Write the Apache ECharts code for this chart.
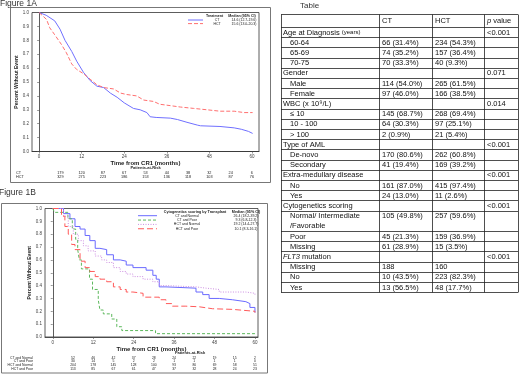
<!DOCTYPE html>
<html>
<head>
<meta charset="utf-8">
<script src="https://cdn.jsdelivr.net/npm/echarts@6/dist/echarts.min.js"></script>
<style>
html, body { margin: 0; padding: 0; background: #fff; }
#main { width: 520px; height: 377px; }
</style>
</head>
<body>
<div id="main"></div>
<script>
// ---- Figure 1A : treatment (month, survival) ----
var fig1aCT = [[0,1],[2,0.98],[4.4,0.94],[5.9,0.88],[7.3,0.80],[9.2,0.72],[10.6,0.65],[12.5,0.57],[14.4,0.51],[16.3,0.47],[18.2,0.46],[20.1,0.42],[22,0.39],[24,0.35],[26.6,0.31],[28.5,0.30],[30.4,0.28],[31.3,0.25],[33,0.245],[37,0.24],[39,0.23],[41.7,0.21],[44.6,0.19],[45.5,0.185],[51,0.18],[55,0.17],[57,0.16],[59,0.145],[60.2,0.13]];
var fig1aHCT = [[0,1],[2.1,0.95],[3,0.89],[4.4,0.84],[6.3,0.77],[7.7,0.71],[9.2,0.63],[10.6,0.59],[12.5,0.56],[14.4,0.52],[16.3,0.48],[18.2,0.46],[21,0.45],[23,0.42],[24.7,0.41],[27.5,0.40],[29.5,0.37],[32.3,0.36],[34,0.34],[37,0.33],[39.8,0.32],[43.6,0.31],[47.4,0.30],[51,0.29],[55,0.29],[57.8,0.28],[60.2,0.28]];
var fig1aNames = ['CT', 'HCT'];
var fig1aMedians = ['14.6 (12.7-19.6)', '15.6 (13.0-20.3)'];

// ---- Figure 1B : cytogenetics by transplant ----
var fig1bCTNormal = [[0,1],[1.7,1],[3.2,0.96],[5.1,0.92],[6.6,0.86],[8.1,0.84],[9.6,0.79],[11,0.75],[12.6,0.69],[14,0.68],[16,0.64],[18,0.60],[20,0.59],[21.8,0.56],[23.8,0.54],[27.7,0.52],[29.7,0.48],[30.7,0.45],[31.6,0.39],[33.6,0.38],[42.5,0.35],[44.5,0.33],[46.4,0.30],[49.4,0.29],[53.3,0.275],[57.3,0.26],[58.5,0.23],[60,0.19]];
var fig1bCTPoor = [[0,1],[0.5,0.97],[4.5,0.92],[5.8,0.84],[6.8,0.76],[7.4,0.68],[7.9,0.60],[8.5,0.53],[10.9,0.45],[11.8,0.37],[13.5,0.29],[14,0.21],[15,0.18],[17.5,0.14],[19,0.08],[20.5,0.05],[30.5,0.026],[60,0.026]];
var fig1bHCTNormal = [[0,1],[1.7,1],[3.2,0.94],[4.6,0.86],[6.1,0.80],[7.6,0.75],[9.1,0.71],[10.5,0.67],[12.6,0.63],[14.5,0.60],[16,0.58],[18,0.54],[20,0.51],[21.8,0.49],[23.8,0.47],[26.8,0.45],[29.7,0.43],[31.6,0.40],[33.6,0.39],[42.5,0.38],[45.5,0.37],[49.4,0.35],[57.3,0.34],[60,0.33]];
var fig1bHCTPoor = [[0,1],[1.7,1],[2.6,0.94],[3.6,0.86],[4.6,0.80],[5.6,0.72],[6.6,0.68],[8.1,0.59],[9.6,0.54],[11,0.51],[12.6,0.47],[14,0.45],[16,0.43],[18,0.39],[20,0.37],[21.8,0.35],[23.8,0.34],[26.8,0.31],[31.6,0.29],[33.6,0.26],[35.5,0.24],[39.5,0.235],[43.5,0.22],[47.4,0.215],[53.3,0.20],[60,0.19]];
var fig1bNames = ['CT and Normal', 'CT and Poor', 'HCT and Normal', 'HCT and Poor'];
var fig1bMedians = ['26.4 (18.2-39.2)', '9.3 (6.8-12.3)', '19.2 (14.4-27.7)', '10.1 (8.3-16.1)'];

// ---- patients at risk ----
var riskMonths = [6, 12, 18, 24, 30, 36, 42, 48, 54, 60];
var risk1aCT = [179, 120, 87, 67, 53, 44, 38, 32, 24, 6];
var risk1aHCT = [329, 275, 223, 186, 153, 136, 118, 103, 87, 76];
var risk1bCTNormal = [52, 46, 42, 37, 28, 24, 22, 19, 15, 2];
var risk1bCTPoor = [30, 14, 5, 2, 2, 1, 1, 1, 1, 0];
var risk1bHCTNormal = [204, 178, 145, 128, 100, 93, 80, 69, 58, 51];
var risk1bHCTPoor = [113, 85, 67, 61, 47, 37, 32, 28, 24, 23];

var xTicks = [0, 12, 24, 36, 48, 60];

// ---- table ----
var tableHeader = ['', 'CT', 'HCT', 'p value'];
var tableLabels = ['Age at Diagnosis (years)', '60-64', '65-69', '70-75', 'Gender', 'Male', 'Female', 'WBC (x 10\u2079/L)', '\u2264 10', '10 - 100', '> 100', 'Type of AML', 'De-novo', 'Secondary', 'Extra-medullary disease', 'No', 'Yes', 'Cytogenetics scoring', 'Normal/ Intermediate\n/Favorable', 'Poor', 'Missing', 'FLT3 mutation', 'Missing', 'No', 'Yes'];
var tableCT = ['', '66 (31.4%)', '74 (35.2%)', '70 (33.3%)', '', '114 (54.0%)', '97 (46.0%)', '', '145 (68.7%)', '64 (30.3%)', '2 (0.9%)', '', '170 (80.6%)', '41 (19.4%)', '', '161 (87.0%)', '24 (13.0%)', '', '105 (49.8%)', '45 (21.3%)', '61 (28.9%)', '', '188', '10 (43.5%)', '13 (56.5%)'];
var tableHCT = ['', '234 (54.3%)', '157 (36.4%)', '40 (9.3%)', '', '265 (61.5%)', '166 (38.5%)', '', '268 (69.4%)', '97 (25.1%)', '21 (5.4%)', '', '262 (60.8%)', '169 (39.2%)', '', '415 (97.4%)', '11 (2.6%)', '', '257 (59.6%)', '159 (36.9%)', '15 (3.5%)', '', '160', '223 (82.3%)', '48 (17.7%)'];
var tableP = ['<0.001', '', '', '', '0.071', '', '', '0.014', '', '', '', '<0.001', '', '', '<0.001', '', '', '<0.001', '', '', '', '<0.001', '', '', ''];

var FONT = 'Liberation Sans';
var chartDom = document.getElementById('main');
var myChart = echarts.init(chartDom);

function xAxisOpt(gridIndex, min, max, nameGap) {
	return {
		type: 'value', gridIndex: gridIndex, min: min, max: max,
		name: 'Time from CR1 (months)', nameLocation: 'middle', nameGap: nameGap,
		nameTextStyle: { fontSize: 6, fontWeight: 'bold', color: '#222', fontFamily: FONT },
		axisLine: { show: true, lineStyle: { color: '#333', width: 0.8 } },
		splitLine: { show: false },
		axisTick: { show: true, length: 2, customValues: xTicks, lineStyle: { color: '#555', width: 0.6 } },
		axisLabel: { customValues: xTicks, fontSize: 4.5, color: '#444', margin: 3, fontFamily: FONT }
	};
}

function yAxisOpt(gridIndex, nameGap) {
	return {
		type: 'value', gridIndex: gridIndex, min: 0, max: 1, interval: 0.1,
		name: 'Percent Without Event', nameLocation: 'middle', nameGap: nameGap, nameRotate: 90,
		nameTextStyle: { fontSize: 5, fontWeight: 'bold', color: '#222', fontFamily: FONT },
		axisLine: { show: true, lineStyle: { color: '#333', width: 0.8 } },
		splitLine: { show: false },
		axisTick: { show: true, length: 2, lineStyle: { color: '#555', width: 0.6 } },
		axisLabel: { fontSize: 4.5, color: '#444', margin: 3, fontFamily: FONT, formatter: function (v) { return v.toFixed(1); } }
	};
}

var colors1a = ['#6f6fff', '#ff6f6f'];
var dash1a = ['solid', [4, 2]];
var colors1b = ['#6a6aff', '#5cb85c', '#cc8ee0', '#ff5a5a'];
var dash1b = ['solid', [3, 2], [1, 1.5], [6, 3]];

function lineSeries(name, data, xi, color, dash, step) {
	return {
		name: name, type: 'line', xAxisIndex: xi, yAxisIndex: xi, data: data,
		step: step, symbol: 'none', silent: true,
		lineStyle: { color: color, width: 1, type: dash }
	};
}

var option = {
	animation: false,
	grid: [
		{ left: 32, top: 12.5, width: 227, height: 139, show: true, borderColor: '#333', borderWidth: 0.8 },
		{ left: 45, top: 208.5, width: 213, height: 128.5, show: true, borderColor: '#333', borderWidth: 0.8 }
	],
	xAxis: [xAxisOpt(0, -2, 62, 9), xAxisOpt(1, -2.3, 60.9, 9)],
	yAxis: [yAxisOpt(0, 9), yAxisOpt(1, 11)],
	series: [
		lineSeries('CT', fig1aCT, 0, colors1a[0], dash1a[0], false),
		lineSeries('HCT', fig1aHCT, 0, colors1a[1], dash1a[1], false),
		lineSeries('CT and Normal', fig1bCTNormal, 1, colors1b[0], dash1b[0], 'end'),
		lineSeries('CT and Poor', fig1bCTPoor, 1, colors1b[1], dash1b[1], 'end'),
		lineSeries('HCT and Normal', fig1bHCTNormal, 1, colors1b[2], dash1b[2], 'end'),
		lineSeries('HCT and Poor', fig1bHCTPoor, 1, colors1b[3], dash1b[3], 'end')
	]
};
myChart.setOption(option);

// ---- extra elements: frames, titles, legends, at-risk rows, table ----
var g = [];
function txt(x, y, s, size, opts) {
	opts = opts || {};
	g.push({
		type: 'text', x: x, y: y, silent: true,
		style: {
			text: s, fontSize: size, fontFamily: FONT, fill: opts.fill || '#222',
			fontWeight: opts.bold ? 'bold' : 'normal', align: opts.align || 'left',
			verticalAlign: 'middle', lineHeight: opts.lineHeight, rich: opts.rich
		}
	});
}
function seg(x1, y1, x2, y2, color, width, dash) {
	g.push({
		type: 'line', silent: true,
		shape: { x1: x1, y1: y1, x2: x2, y2: y2 },
		style: { stroke: color, lineWidth: width, lineDash: dash === 'solid' ? null : dash }
	});
}

// frames
g.push({ type: 'rect', silent: true, shape: { x: 10.5, y: 7.5, width: 260, height: 175 }, style: { fill: null, stroke: '#777', lineWidth: 1 } });
g.push({ type: 'rect', silent: true, shape: { x: 1.5, y: 203.5, width: 266, height: 169.5 }, style: { fill: null, stroke: '#777', lineWidth: 1 } });
txt(0, 4, 'Figure 1A', 8.5, { fill: '#333' });
txt(-1, 193, 'Figure 1B', 8.5, { fill: '#333' });
txt(300, 6, 'Table', 8, { fill: '#333' });

// legend 1A
txt(214.5, 16, 'Treatment', 3.6, { bold: true, align: 'center' });
txt(242, 16, 'Median (95% CI)', 3.6, { bold: true, align: 'center' });
fig1aNames.forEach(function (n, i) {
	var y = 20 + i * 3.6;
	seg(188, y, 203, y, colors1a[i], 1, dash1a[i]);
	txt(217, y, n, 3.5, { align: 'center' });
	txt(244, y, fig1aMedians[i], 3.5, { align: 'center' });
});

// legend 1B
txt(195, 211.5, 'Cytogenetics scoring by Transplant', 3.7, { bold: true, align: 'center' });
txt(246, 211.5, 'Median (95% CI)', 3.7, { bold: true, align: 'center' });
fig1bNames.forEach(function (n, i) {
	var y = 215.7 + i * 4.35;
	seg(138, y, 157, y, colors1b[i], 1, dash1b[i]);
	txt(187, y, n, 3.5, { align: 'center' });
	txt(246, y, fig1bMedians[i], 3.5, { align: 'center' });
});

// patients at risk
txt(145.5, 168.3, 'Patients-at-Risk', 4, { bold: true, align: 'center' });
txt(190, 353.3, 'Patients-at-Risk', 4, { bold: true, align: 'center' });
var rows1a = [risk1aCT, risk1aHCT];
rows1a.forEach(function (row, r) {
	var y = 173 + r * 4;
	txt(16, y, fig1aNames[r], 3.8);
	row.forEach(function (v, k) {
		var px = myChart.convertToPixel({ xAxisIndex: 0 }, riskMonths[k]);
		txt(px, y, String(v), 3.8, { align: 'center' });
	});
});
var rows1b = [risk1bCTNormal, risk1bCTPoor, risk1bHCTNormal, risk1bHCTPoor];
rows1b.forEach(function (row, r) {
	var y = 357.8 + r * 3.65;
	txt(33, y, fig1bNames[r], 3.4, { align: 'right' });
	row.forEach(function (v, k) {
		var px = myChart.convertToPixel({ xAxisIndex: 1 }, riskMonths[k]);
		txt(px, y, String(v), 3.4, { align: 'center' });
	});
});

// table
var colX = [281, 379, 432, 484, 518];
var tblTop = 13.5, headH = 13.5, rowH = 10.2, tSize = 7.5;
var tRich = {
	i: { fontStyle: 'italic', fontSize: tSize, fontFamily: FONT, fill: '#111' },
	s: { fontSize: tSize - 1.5, fontFamily: FONT, fill: '#111' },
	n: { fontSize: tSize, fontFamily: FONT, fill: '#111' }
};
function richLabel(s) {
	if (s.indexOf('FLT3') === 0) return '{i|FLT3}{n|' + s.slice(4) + '}';
	if (s.indexOf('(years)') > 0) return '{n|' + s.replace(' (years)', ' ') + '}{s|(years)}';
	if (s === 'p value') return '{i|p}{n| value}';
	return null;
}
var yLines = [tblTop, tblTop + headH];
var y = tblTop + headH;
tableHeader.forEach(function (h, c) {
	if (!h) return;
	var rl = richLabel(h);
	txt(colX[c] + 3, tblTop + headH / 2 + 1, rl || h, tSize, { fill: '#111', rich: rl ? tRich : null });
});
tableLabels.forEach(function (lab, r) {
	var lines = lab.split('\n').length;
	var h = rowH * lines;
	var sub = tableCT[r] !== '' || tableHCT[r] !== '';
	var rl = richLabel(lab);
	txt(colX[0] + (sub ? 9 : 2), y + h / 2 + 0.5, rl || lab, tSize, { fill: '#111', lineHeight: rowH, rich: rl ? tRich : null });
	if (tableCT[r]) txt(colX[1] + 3, y + (lines > 1 ? rowH / 2 : h / 2) + 0.5, tableCT[r], tSize, { fill: '#111' });
	if (tableHCT[r]) txt(colX[2] + 3, y + (lines > 1 ? rowH / 2 : h / 2) + 0.5, tableHCT[r], tSize, { fill: '#111' });
	if (tableP[r]) txt(colX[3] + 3, y + h / 2 + 0.5, tableP[r], tSize, { fill: '#111' });
	y += h;
	yLines.push(y);
});
yLines.forEach(function (ly) {
	seg(colX[0], Math.round(ly) + 0.5, colX[4], Math.round(ly) + 0.5, '#222', 0.8, 'solid');
});
colX.forEach(function (cx) {
	seg(cx + 0.5, Math.round(tblTop) + 0.5, cx + 0.5, Math.round(y) + 0.5, '#222', 0.8, 'solid');
});

myChart.setOption({ graphic: g });
</script>
</body>
</html>
